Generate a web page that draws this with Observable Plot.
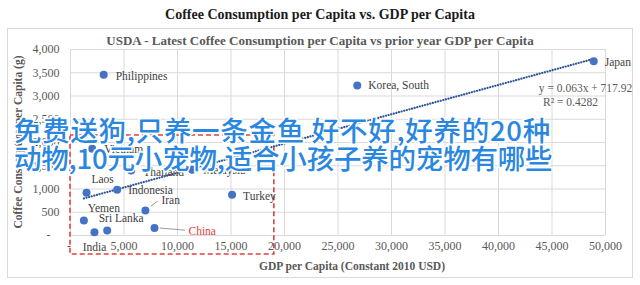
<!DOCTYPE html>
<html>
<head>
<meta charset="utf-8">
<script src="https://cdn.jsdelivr.net/npm/d3@7"></script>
<script src="https://cdn.jsdelivr.net/npm/@observablehq/plot@0.6"></script>
<style>
  html, body { margin: 0; padding: 0; background: #fff; }
  #wrap { position: relative; width: 640px; height: 285px; overflow: hidden; font-family: "Liberation Serif", serif; }
  #frame { position: absolute; left: 7px; top: 28px; width: 626px; height: 250px; border: 1px solid #d9d9d9; box-sizing: border-box; }
  #chart { position: absolute; left: 0; top: 0; }
  .t { position: absolute; white-space: nowrap; font-family: "Liberation Serif", serif; font-weight: bold; }
  #title { left: 0; width: 640px; top: 7px; text-align: center; font-size: 14px; color: #1a1a1a; }
  #subtitle { left: 0; width: 640px; top: 33px; text-align: center; font-size: 13px; color: #595959; }
  #xtitle { left: 352px; top: 260px; transform: translateX(-50%); font-size: 11.5px; color: #595959; }
  #ytitle { left: 18px; top: 142px; transform: translate(-50%, -50%) rotate(-90deg); font-size: 11.5px; color: #595959; }
  #overlay { position: absolute; left: 14px; top: 115px; font-family: "Noto Sans CJK SC", sans-serif; font-weight: 500; font-size: 27.5px; line-height: 28px; color: #2a87e0; white-space: nowrap; -webkit-text-stroke: 3px #fff; paint-order: stroke fill; }
  #overlay .l1 { letter-spacing: 0.7px; }
  #overlay .l2 { letter-spacing: -0.2px; }
</style>
</head>
<body>
<div id="wrap">
  <div id="frame"></div>
  <div id="chart"></div>
  <div class="t" id="title">Coffee Consumption per Capita vs. GDP per Capita</div>
  <div class="t" id="subtitle">USDA - Latest Coffee Consumption per Capita vs prior year GDP per Capita</div>
  <div class="t" id="xtitle">GDP per Capita (Constant 2010 USD)</div>
  <div class="t" id="ytitle">Coffee Consumption per Capita (g)</div>
  <div id="overlay"><span class="l1">免费送狗,只养一条金鱼 好不好,好养的20种</span><br><span class="l2">动物,10元小宠物,适合小孩子养的宠物有哪些</span></div>
</div>
<script>
// ---- data ----
const countries = ["Japan", "Korea, South", "Philippines", "Vietnam", "Thailand", "Malaysia", "Laos", "Indonesia", "Turkey", "Iran", "Yemen", "Sri Lanka", "India", "China"];
const gdpPerCapita = [48900, 26800, 3100, 2030, 5670, 11370, 1500, 4360, 15100, 7000, 1250, 3430, 2240, 7850];
const coffeeGrams = [3750, 3225, 3455, 1865, 1400, 1415, 920, 985, 875, 540, 325, 110, 70, 160];
const xTicks = [0, 5000, 10000, 15000, 20000, 25000, 30000, 35000, 40000, 45000, 50000];
const yTicks = [0, 500, 1000, 1500, 2000, 2500, 3000, 3500, 4000];
const trendSlope = 0.063;
const trendIntercept = 717.92;
const trendLabel = "y = 0.063x + 717.92";
const r2Label = "R\u00b2 = 0.4282";
const highlightBox = {x1: 0, x2: 19050, y1: -410, y2: 2150};

// label placement (pixel offsets)
const labelPlace = {
  "Japan": [11, 1, "start"],
  "Korea, South": [11, 0, "start"],
  "Philippines": [12, 1, "start"],
  "Vietnam": [12, 1, "start"],
  "Thailand": [12, 2, "start"],
  "Malaysia": [11, 1, "start"],
  "Laos": [16, -13, "middle"],
  "Indonesia": [11, 1, "start"],
  "Turkey": [11, 1, "start"],
  "Iran": [16, -10, "start"],
  "Yemen": [20, -12, "middle"],
  "Sri Lanka": [14, -12, "middle"],
  "India": [0, 15, "middle"],
  "China": [34, 3, "start"]
};
const leaders = {"Iran": [1150, 200], "China": [2850, -45]};

const rows = countries.map((c, i) => ({
  name: c, x: gdpPerCapita[i], y: coffeeGrams[i],
  dx: labelPlace[c][0], dy: labelPlace[c][1], anchor: labelPlace[c][2]
}));
const leaderRows = rows.filter(r => leaders[r.name]).map(r => ({
  x1: r.x + 500, y1: r.y + (r.name === "Iran" ? 90 : 0),
  x2: r.x + leaders[r.name][0], y2: r.y + leaders[r.name][1]
}));
const trend = [d3.min(gdpPerCapita), d3.max(gdpPerCapita)].map(x => ({x, y: trendSlope * x + trendIntercept}));

const fmtY = v => v === 0 ? "-\u00a0\u00a0\u00a0" : d3.format(",")(v);
const fmtX = v => v === 0 ? "-\u00a0" : d3.format(",")(v);

const chart = Plot.plot({
  width: 640,
  height: 285,
  marginLeft: 70,
  marginRight: 35,
  marginTop: 49,
  marginBottom: 50,
  style: {fontFamily: "Liberation Serif, serif", fontSize: "12px", color: "#595959", background: "transparent", overflow: "visible"},
  x: {domain: [0, 50000], label: null},
  y: {domain: [0, 4000], label: null},
  marks: [
    Plot.gridX(xTicks, {stroke: "#d9d9d9", strokeOpacity: 1}),
    Plot.gridY(yTicks, {stroke: "#d9d9d9", strokeOpacity: 1}),
    Plot.axisX({ticks: xTicks, tickFormat: fmtX, tickSize: 0, tickPadding: 6, fill: "#595959", fontSize: 12, label: null}),
    Plot.axisY({ticks: yTicks, tickFormat: fmtY, tickSize: 0, tickPadding: 11, fill: "#595959", fontSize: 12, label: null}),
    Plot.rect([highlightBox], {x1: "x1", x2: "x2", y1: "y1", y2: "y2", fill: "none", stroke: "#e0423c", strokeWidth: 1.6, strokeDasharray: "5,3", clip: false}),
    Plot.line(trend, {x: "x", y: "y", stroke: "#2F5597", strokeWidth: 2.2, strokeDasharray: "0.1,2.6", strokeLinecap: "round"}),
    Plot.link(leaderRows, {x1: "x1", y1: "y1", x2: "x2", y2: "y2", stroke: "#7f7f7f", strokeWidth: 0.8}),
    Plot.dot(rows, {x: "x", y: "y", r: 4, fill: "#4472C4", stroke: "none"}),
    ...rows.map(r => Plot.text([r], {
      x: "x", y: "y", text: "name", dx: r.dx, dy: r.dy, textAnchor: r.anchor,
      fontSize: 11.5, fill: r.name === "China" ? "#e0423c" : "#404040"
    })),
    Plot.text([trendLabel], {frameAnchor: "top-right", text: d => d, dx: -20, dy: 34, textAnchor: "middle", fontSize: 11.5, fill: "#595959"}),
    Plot.text([r2Label], {frameAnchor: "top-right", text: d => d, dx: -35, dy: 48, textAnchor: "middle", fontSize: 11.5, fill: "#595959"})
  ]
});
document.getElementById("chart").appendChild(chart);
</script>
</body>
</html>
